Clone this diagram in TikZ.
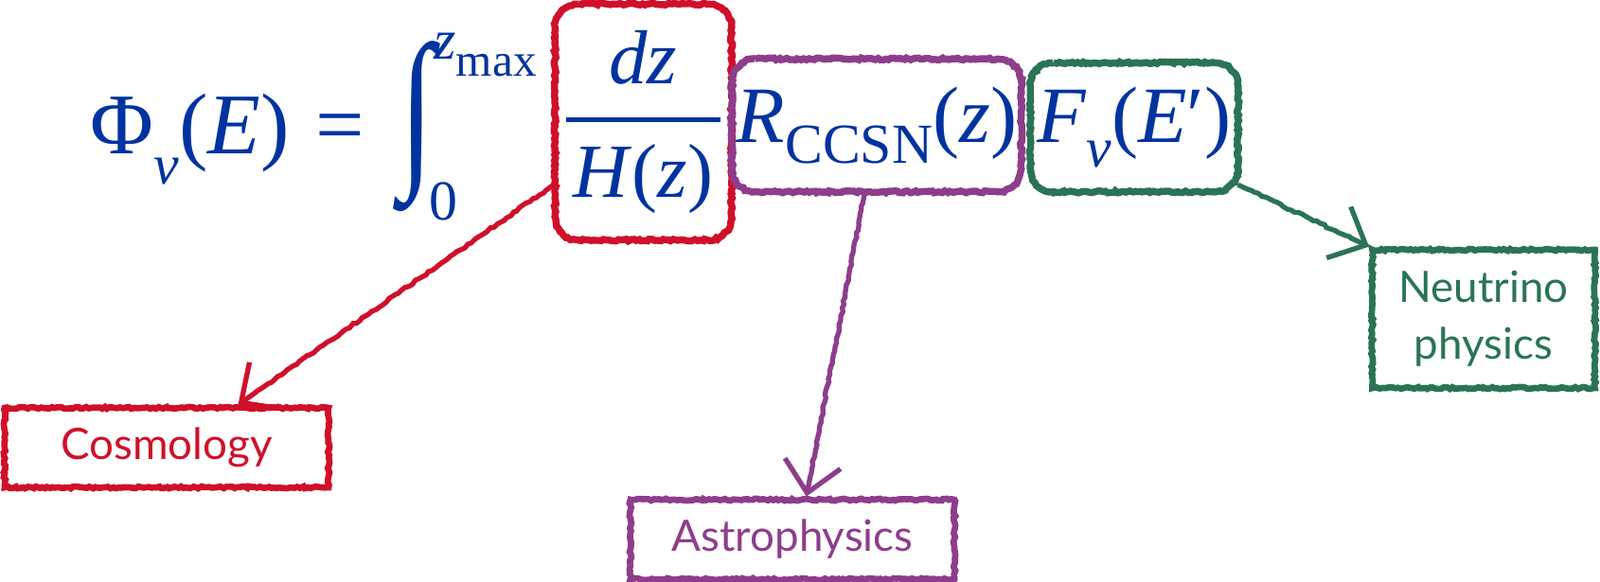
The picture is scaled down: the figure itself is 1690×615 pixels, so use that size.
\documentclass[tikz,border=0pt]{standalone}
\usepackage{amsmath}
\usepackage{fontspec}
\newfontfamily\tagfont{Lato}
\newfontfamily\eqfont{Liberation Serif}
\usepackage{tikz}
\usetikzlibrary{positioning,calc,arrows.meta,decorations.pathmorphing}
\definecolor{Eqn}{HTML}{0033A0}
\definecolor{Cosmo}{HTML}{D0102A}
\definecolor{Astro}{HTML}{8E3D8B}
\definecolor{Nuphys}{HTML}{2A7455}
\newcommand{\fs}[1]{\fontsize{#1}{#1}\selectfont}
\newcommand{\lowsub}[2]{\raisebox{#1}{\fs{17}#2}}
% rounded pencil frame round a named node
\newcommand{\pencilframe}[2]{%
  \draw[rough,draw=#2,line width=2.1pt]
    ([xshift=7pt]#1.north west) -- ([xshift=-7pt]#1.north east)
    arc[start angle=90,end angle=0,radius=7pt] -- ([yshift=7pt]#1.south east)
    arc[start angle=0,end angle=-90,radius=7pt] -- ([xshift=7pt]#1.south west)
    arc[start angle=270,end angle=180,radius=7pt] -- ([yshift=-7pt]#1.north west)
    arc[start angle=180,end angle=90,radius=7pt] -- cycle;}

\begin{document}
\begin{tikzpicture}[x=0.01cm,y=-0.01cm,
  rough/.style={decorate,decoration={random steps,segment length=.8pt,amplitude=.3pt}},
  eqn/.style={inner sep=0pt,text=Eqn,font=\eqfont\fs{26}},
  term/.style={inner sep=0pt,text=Eqn,font=\eqfont\fs{24}},
  tagbox/.style={rough,draw=#1,line width=1.9pt,inner sep=0pt,text=#1,align=center,
    font=\tagfont\fontsize{13}{17}\selectfont},
  pointer/.style={draw=#1,line width=1.5pt,-{Straight Barb[length=9pt,width=17pt]},
    decorate,decoration={random steps,segment length=1.2pt,amplitude=.3pt,pre length=2pt,post length=6pt}}]
\useasboundingbox (0,0) rectangle (1690,615);
% the equation
\node[eqn,anchor=base west] (lhs) at (95,162)
  {Φ\lowsub{-.35em}{\itshape ν}(\textit{E})\hspace{.3em}=};
\node[eqn] (intg) at (441,134) {\resizebox*{.36cm}{1.8cm}{∫}};
\node[eqn,anchor=base west,font=\eqfont\fs{17}] (upper) at (458,63) {\textit{z}\raisebox{-.3em}{\fs{14}max}};
\node[eqn,anchor=base west,font=\eqfont\fs{17}] (lower) at (453,232) {0};
\node[term,minimum width=1.85cm,minimum height=2.48cm] (frac) at (679.5,129)
  {\fs{23}$\genfrac{}{}{1.4pt}{0}{\makebox[1.62cm]{\textit{dz}}}{\text{\textit{H}(\textit{z})}}$};
\node[term,minimum width=3.04cm,minimum height=1.39cm] (rate) at (926,132.5)
  {\textit{R}\lowsub{-.25em}{CCSN}(\textit{z})};
\node[term,minimum width=2.18cm,minimum height=1.35cm] (spec) at (1198,134.5)
  {\textit{F}\lowsub{-.3em}{\itshape ν}(\textit{E}′)};
\pencilframe{frac}{Cosmo}
\pencilframe{rate}{Astro}
\pencilframe{spec}{Nuphys}
% what each factor is about
\node[tagbox=Cosmo,minimum width=3.42cm,minimum height=.84cm] (cosmo) at (176,473) {Cosmology};
\node[tagbox=Astro,minimum width=3.42cm,minimum height=.84cm] (astro) at (837,570) {Astrophysics};
\node[tagbox=Nuphys,minimum width=2.35cm,minimum height=1.46cm] (nuphys) at (1567,337) {Neutrino\\physics};
\draw[pointer=Cosmo] (frac.215) -- (cosmo.31);
\draw[pointer=Astro] (rate.260) -- (astro.72);
\draw[pointer=Nuphys] (spec.-29) -- (nuphys.north west);
\end{tikzpicture}
\end{document}
